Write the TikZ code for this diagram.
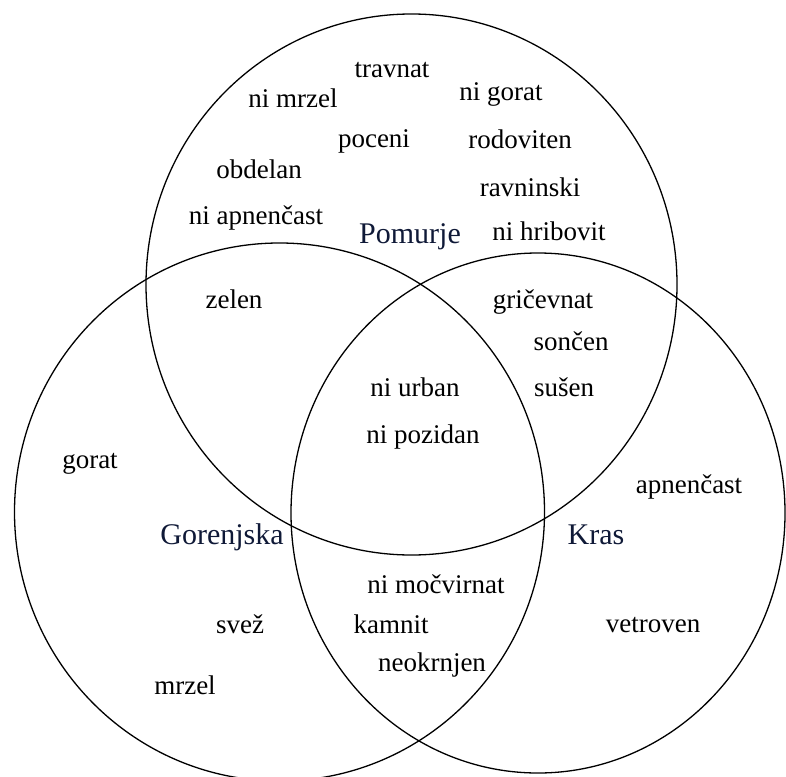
\documentclass[tikz,border=0pt]{standalone}
\usepackage{fontspec}
\setmainfont{Liberation Serif}
\definecolor{labelblue}{RGB}{15,25,55}

\begin{document}
\begin{tikzpicture}[x=1pt,y=-1pt,
                    set circle/.style={draw,line width=1.3pt},
                    word node/.style={inner sep=0pt,anchor=base,yshift=-3pt,font=\fontsize{27}{30}\selectfont},
                    region node/.style={inner sep=0pt,anchor=base,yshift=-2pt,text=labelblue,font=\fontsize{30}{34}\selectfont}]
\useasboundingbox (0,0) rectangle (786,776);
\clip (0,0) rectangle (786,776);
%%%%%
\coordinate (P) at (411.5,284.5);
  \coordinate (G) at (279.5,512);
 \coordinate (K) at (538,513);
  %%%%%%%
  \draw[set circle] (P) ellipse [x radius=265.5pt, y radius=270.5pt];
  \draw[set circle] (G) ellipse [x radius=265pt, y radius=269pt];
  \draw[set circle] (K) ellipse [x radius=247pt, y radius=260pt];
  %%%%%%%
  \node[region node] (pom) at (410,241) {Pomurje};
  \node[region node] (gor) at (222,542) {Gorenjska};
  \node[region node] (kra) at (596,542) {Kras};
  %%%%%%% Pomurje
  \node[word node] (1) at (392,74) {travnat};
  \node[word node] (2) at (293,104) {ni mrzel};
  \node[word node] (3) at (501,97) {ni gorat};
  \node[word node] (4) at (374,144) {poceni};
  \node[word node] (5) at (520,145) {rodoviten};
  \node[word node] (6) at (259,175) {obdelan};
  \node[word node] (7) at (530,193) {ravninski};
  \node[word node] (8) at (256,221) {ni apnenčast};
  \node[word node] (9) at (549,237) {ni hribovit};
  %%%%%%% Pomurje + Gorenjska, Pomurje + Kras, all
  \node[word node] (10) at (234,305) {zelen};
  \node[word node] (11) at (543,305) {gričevnat};
  \node[word node] (12) at (571,347) {sončen};
  \node[word node] (13) at (564,393) {sušen};
  \node[word node] (14) at (415,393) {ni urban};
  \node[word node] (15) at (423,440) {ni pozidan};
  %%%%%%% Gorenjska, Kras, Gorenjska + Kras
  \node[word node] (16) at (90,465) {gorat};
  \node[word node] (17) at (689,490) {apnenčast};
  \node[word node] (18) at (436,590) {ni močvirnat};
  \node[word node] (19) at (391,630) {kamnit};
  \node[word node] (20) at (240,630) {svež};
  \node[word node] (21) at (653,629) {vetroven};
  \node[word node] (22) at (432,668) {neokrnjen};
  \node[word node] (23) at (185,691) {mrzel};
\end{tikzpicture}
\end{document}
